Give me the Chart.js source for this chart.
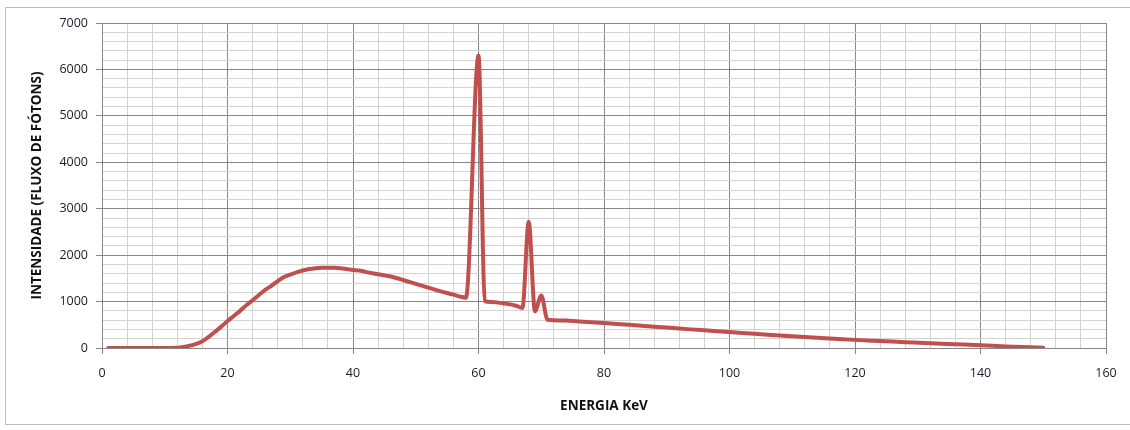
<!DOCTYPE html>
<html>
<head>
<meta charset="utf-8">
<script src="https://cdn.jsdelivr.net/npm/chart.js@4.4.1/dist/chart.umd.min.js"></script>
<style>
    html, body { margin: 0; padding: 0; background: #fff; }
    #wrap { position: relative; width: 1130px; height: 430px; }
    #frame { position: absolute; left: 5px; top: 7px; width: 1130px; height: 418px; border: 1px solid #bdbdbd; box-sizing: border-box; pointer-events: none; }
</style>
</head>
<body>
<div id="wrap">
    <canvas id="espectro" width="1130" height="430"></canvas>
    <div id="frame"></div>
</div>
<script>
// Energia (keV) e intensidade
const energia = [1, 5, 10, 12, 13, 14, 15, 16, 17, 18, 19, 20, 21, 22, 23, 24, 25, 26, 27, 28, 29, 30,
    31, 32, 33, 34, 35, 36, 37, 38, 39, 40, 41, 42, 44, 46, 48, 50, 52, 54, 56, 57, 58, 60, 61, 62,
    64, 66, 67, 68, 69, 70, 71, 72, 74, 76, 78, 80, 84, 88, 92, 96, 100, 104, 108, 112, 116, 120,
    124, 128, 132, 136, 140, 144, 148, 150];
const intensidade = [0, 0, 0, 5, 20, 50, 90, 145, 240, 350, 460, 580, 690, 800, 920, 1030, 1140, 1250, 1340, 1440, 1530, 1580,
    1630, 1670, 1700, 1720, 1730, 1730, 1730, 1720, 1700, 1680, 1670, 1640, 1590, 1540, 1465, 1380, 1300, 1220, 1150, 1110, 1085, 6300, 1010, 990,
    960, 910, 860, 2720, 790, 1130, 610, 600, 590, 570, 555, 540, 500, 460, 420, 380, 345, 305, 270, 235, 205, 175,
    150, 125, 100, 80, 60, 35, 15, 5];

const xMin = 0, xMax = 160, xPasso = 4, xMaior = 20;
const yMin = 0, yMax = 7000, yPasso = 200, yMaior = 1000;

const corMaior = '#878787';
const corMenor = '#d3d3d3';
const fonte = '"Open Sans", Lato, sans-serif';

const pontos = energia.map((e, i) => ({ x: e, y: intensidade[i] }));

function gradeCor(maior) {
    return ctx => (ctx.tick && ctx.tick.value % maior === 0) ? corMaior : corMenor;
}
function marcaCor(maior) {
    return ctx => (ctx.tick && ctx.tick.value % maior === 0) ? corMaior : 'rgba(0,0,0,0)';
}

new Chart(document.getElementById('espectro'), {
    type: 'scatter',
    data: {
        datasets: [{
            data: pontos,
            showLine: true,
            borderColor: '#c0504d',
            borderWidth: 4,
            pointRadius: 0,
            cubicInterpolationMode: 'monotone',
            borderJoinStyle: 'round',
            borderCapStyle: 'round'
        }]
    },
    options: {
        responsive: false,
        animation: false,
        devicePixelRatio: 1,
        layout: { padding: { left: 25, top: 23, right: 24, bottom: 14 } },
        plugins: { legend: { display: false }, tooltip: { enabled: false } },
        scales: {
            x: {
                type: 'linear',
                min: xMin,
                max: xMax,
                afterFit: s => { s.height = 68; },
                ticks: {
                    stepSize: xPasso,
                    autoSkip: false,
                    maxRotation: 0,
                    padding: 12,
                    color: '#1a1a2a',
                    font: { family: fonte, size: 12.5 },
                    callback: v => (v % xMaior === 0 ? v : '')
                },
                grid: { color: gradeCor(xMaior), tickColor: marcaCor(xMaior), tickLength: 6 },
                border: { color: corMaior },
                title: {
                    display: true,
                    text: 'ENERGIA KeV',
                    color: '#111',
                    padding: { top: 4, bottom: 2 },
                    font: { family: fonte, size: 13.5, weight: 'bold' }
                }
            },
            y: {
                min: yMin,
                max: yMax,
                afterFit: s => { s.width = 77; },
                ticks: {
                    stepSize: yPasso,
                    autoSkip: false,
                    padding: 8,
                    color: '#1a1a2a',
                    font: { family: fonte, size: 12.5 },
                    callback: v => (v % yMaior === 0 ? v : '')
                },
                grid: { color: gradeCor(yMaior), tickColor: marcaCor(yMaior), tickLength: 6 },
                border: { color: corMaior },
                title: {
                    display: true,
                    text: 'INTENSIDADE (FLUXO DE FÓTONS)',
                    color: '#111',
                    font: { family: fonte, size: 13.5, weight: 'bold' }
                }
            }
        }
    }
});
</script>
</body>
</html>
